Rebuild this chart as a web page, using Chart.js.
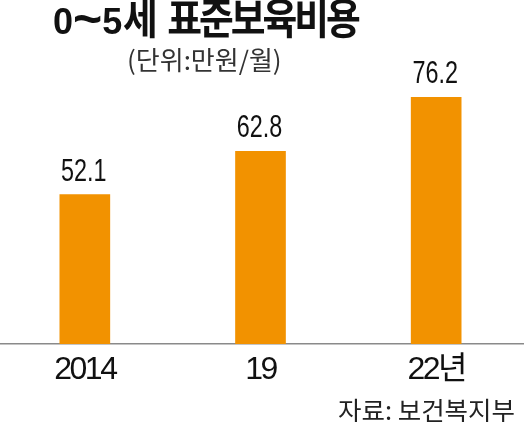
<!DOCTYPE html>
<html><head><meta charset="utf-8">
<script src="https://cdn.jsdelivr.net/npm/chart.js@4"></script>
<style>
html,body{margin:0;padding:0;background:#fff;width:530px;height:422px;overflow:hidden;position:relative}
#wrap{position:absolute;left:-3px;top:0;width:527px;height:422px}
.t{position:absolute;white-space:nowrap;line-height:1;font-family:'Noto Sans CJK KR','Noto Sans',sans-serif}
#title{left:53px;top:-5px;font-size:42px;font-weight:700;color:#111}
#title .n{display:inline-block;font-family:'Liberation Sans',sans-serif;font-size:36px;line-height:1}
#title .tl{font-size:50px;line-height:0;position:relative;top:2px}
#title .k{display:inline-block;margin-left:1px;letter-spacing:-3.4px;transform:scaleX(0.9);transform-origin:0 0;line-height:1}
#title .sp{display:inline-block;width:14px}
#unit{left:127px;top:46px;font-size:26px;color:#333}
#src{right:15px;top:396px;font-size:25.5px;color:#222}
</style></head><body>
<div id="wrap"><canvas id="c"></canvas></div>
<div class="t" id="title"><span class="n">0<span class="tl">~</span>5</span><span class="k">세<span class="sp"> </span>표준보육비용</span></div>
<div class="t" id="unit">(단위:만원/월)</div>
<div class="t" id="src">자료: 보건복지부</div>
<script>
const categories = ['2014', '19', '22년'];
const values = [52.1, 62.8, 76.2];
const valueLabels = ['52.1', '62.8', '76.2'];

const condensePlugin = {
  id: 'condense',
  beforeDraw(chart) { chart.ctx.save(); chart.ctx.letterSpacing = '-2.5px'; },
  afterDraw(chart) { chart.ctx.restore(); }
};

const valueLabelPlugin = {
  id: 'valueLabels',
  afterDatasetsDraw(chart) {
    const ctx = chart.ctx;
    const meta = chart.getDatasetMeta(0);
    meta.data.forEach((bar, i) => {
      ctx.save();
      ctx.letterSpacing = '0px';
      ctx.font = "32px 'Liberation Sans', sans-serif";
      ctx.fillStyle = '#111';
      ctx.textAlign = 'center';
      ctx.textBaseline = 'alphabetic';
      ctx.translate(bar.x - 1, bar.y - 14);
      ctx.scale(0.73, 1);
      ctx.fillText(valueLabels[i], 0, 0);
      ctx.restore();
    });
  }
};

new Chart(document.getElementById('c'), {
  type: 'bar',
  data: {
    labels: categories,
    datasets: [{
      data: values,
      backgroundColor: '#F29200',
      barThickness: 50,
      borderWidth: 0
    }]
  },
  options: {
    responsive: true,
    maintainAspectRatio: false,
    animation: false,
    layout: { padding: { top: 44, left: 0, right: 0, bottom: 0 } },
    plugins: { legend: { display: false }, tooltip: { enabled: false }, title: { display: false } },
    scales: {
      x: {
        grid: { display: false, drawTicks: false },
        border: { display: true, color: '#8a8a8a', width: 1.5 },
        ticks: {
          color: '#111',
          padding: 7,
          font: { family: "'Liberation Sans', 'Noto Sans CJK KR', sans-serif", size: 32 }
        },
        afterFit(scale) { scale.height = 78; }
      },
      y: {
        display: false,
        min: 15.07,
        max: 89.38
      }
    }
  },
  plugins: [condensePlugin, valueLabelPlugin]
});
</script>
</body></html>
